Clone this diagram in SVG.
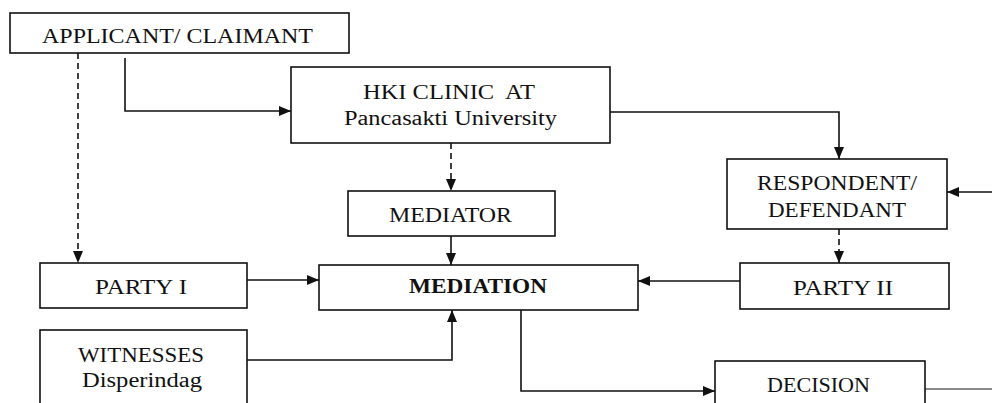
<svg xmlns="http://www.w3.org/2000/svg" width="992" height="403" viewBox="0 0 992 403">
<style>
.box{fill:#fff;stroke:#111;stroke-width:1.6}
.t{font-family:"Liberation Serif","Times New Roman",serif;font-size:20px;fill:#111;text-anchor:start}
.b{font-weight:bold}
.c{fill:none;stroke:#111;stroke-width:1.6}
.d{stroke-dasharray:6 4}
.g{fill:none;stroke:#8a8a8a;stroke-width:2.2}
</style>
<defs>
<marker id="ah" markerUnits="userSpaceOnUse" markerWidth="13" markerHeight="11" refX="12" refY="5" orient="auto">
<path d="M0,0 L12,5 L0,10 z" fill="#111"/>
</marker>
</defs>
<rect width="992" height="403" fill="#fff"/>
<g id="connectors">
<path class="c d" d="M78,53 V263" marker-end="url(#ah)"/>
<path class="c" d="M125,58 V111 H291" marker-end="url(#ah)"/>
<path class="c d" d="M451,143 V191" marker-end="url(#ah)"/>
<path class="c" d="M610,112 H839 V159" marker-end="url(#ah)"/>
<path class="c" d="M992,192 H947" marker-end="url(#ah)"/>
<path class="c d" d="M839,229 V263" marker-end="url(#ah)"/>
<path class="c" d="M451,236 V265" marker-end="url(#ah)"/>
<path class="c" d="M247,280 H319" marker-end="url(#ah)"/>
<path class="c" d="M740,281 H638" marker-end="url(#ah)"/>
<path class="c" d="M247,360 H452 V310" marker-end="url(#ah)"/>
<path class="c" d="M521,310 V391 H715" marker-end="url(#ah)"/>
<path class="g" d="M925,389 H992"/>
</g>
<g id="applicant">
<rect class="box" x="10" y="13" width="339" height="40"/>
<text class="t" x="42" y="43" textLength="271" lengthAdjust="spacingAndGlyphs">APPLICANT/ CLAIMANT</text>
</g>
<g id="hki">
<rect class="box" x="291" y="67" width="319" height="76"/>
<text class="t" x="363" y="99" textLength="172" lengthAdjust="spacingAndGlyphs" xml:space="preserve">HKI CLINIC  AT</text>
<text class="t" x="344" y="125" textLength="213" lengthAdjust="spacingAndGlyphs">Pancasakti University</text>
</g>
<g id="mediator">
<rect class="box" x="348" y="191" width="207" height="45"/>
<text class="t" x="389" y="222" textLength="123" lengthAdjust="spacingAndGlyphs">MEDIATOR</text>
</g>
<g id="respondent">
<rect class="box" x="727" y="159" width="220" height="70"/>
<text class="t" x="757" y="190" textLength="160" lengthAdjust="spacingAndGlyphs">RESPONDENT/</text>
<text class="t" x="768" y="217" textLength="138" lengthAdjust="spacingAndGlyphs">DEFENDANT</text>
</g>
<g id="party1">
<rect class="box" x="40" y="263" width="207" height="45"/>
<text class="t" x="95" y="294" textLength="92" lengthAdjust="spacingAndGlyphs">PARTY I</text>
</g>
<g id="mediation">
<rect class="box" x="319" y="265" width="319" height="45"/>
<text class="t b" x="409" y="293" textLength="138" lengthAdjust="spacingAndGlyphs">MEDIATION</text>
</g>
<g id="party2">
<rect class="box" x="740" y="263" width="209" height="46"/>
<text class="t" x="793" y="295" textLength="100" lengthAdjust="spacingAndGlyphs">PARTY II</text>
</g>
<g id="witnesses">
<rect class="box" x="40" y="330" width="207" height="100"/>
<text class="t" x="78" y="362" textLength="126" lengthAdjust="spacingAndGlyphs">WITNESSES</text>
<text class="t" x="82" y="387" textLength="120" lengthAdjust="spacingAndGlyphs">Disperindag</text>
</g>
<g id="decision">
<rect class="box" x="715" y="361" width="210" height="70"/>
<text class="t" x="767" y="392" textLength="103" lengthAdjust="spacingAndGlyphs">DECISION</text>
</g>
</svg>
